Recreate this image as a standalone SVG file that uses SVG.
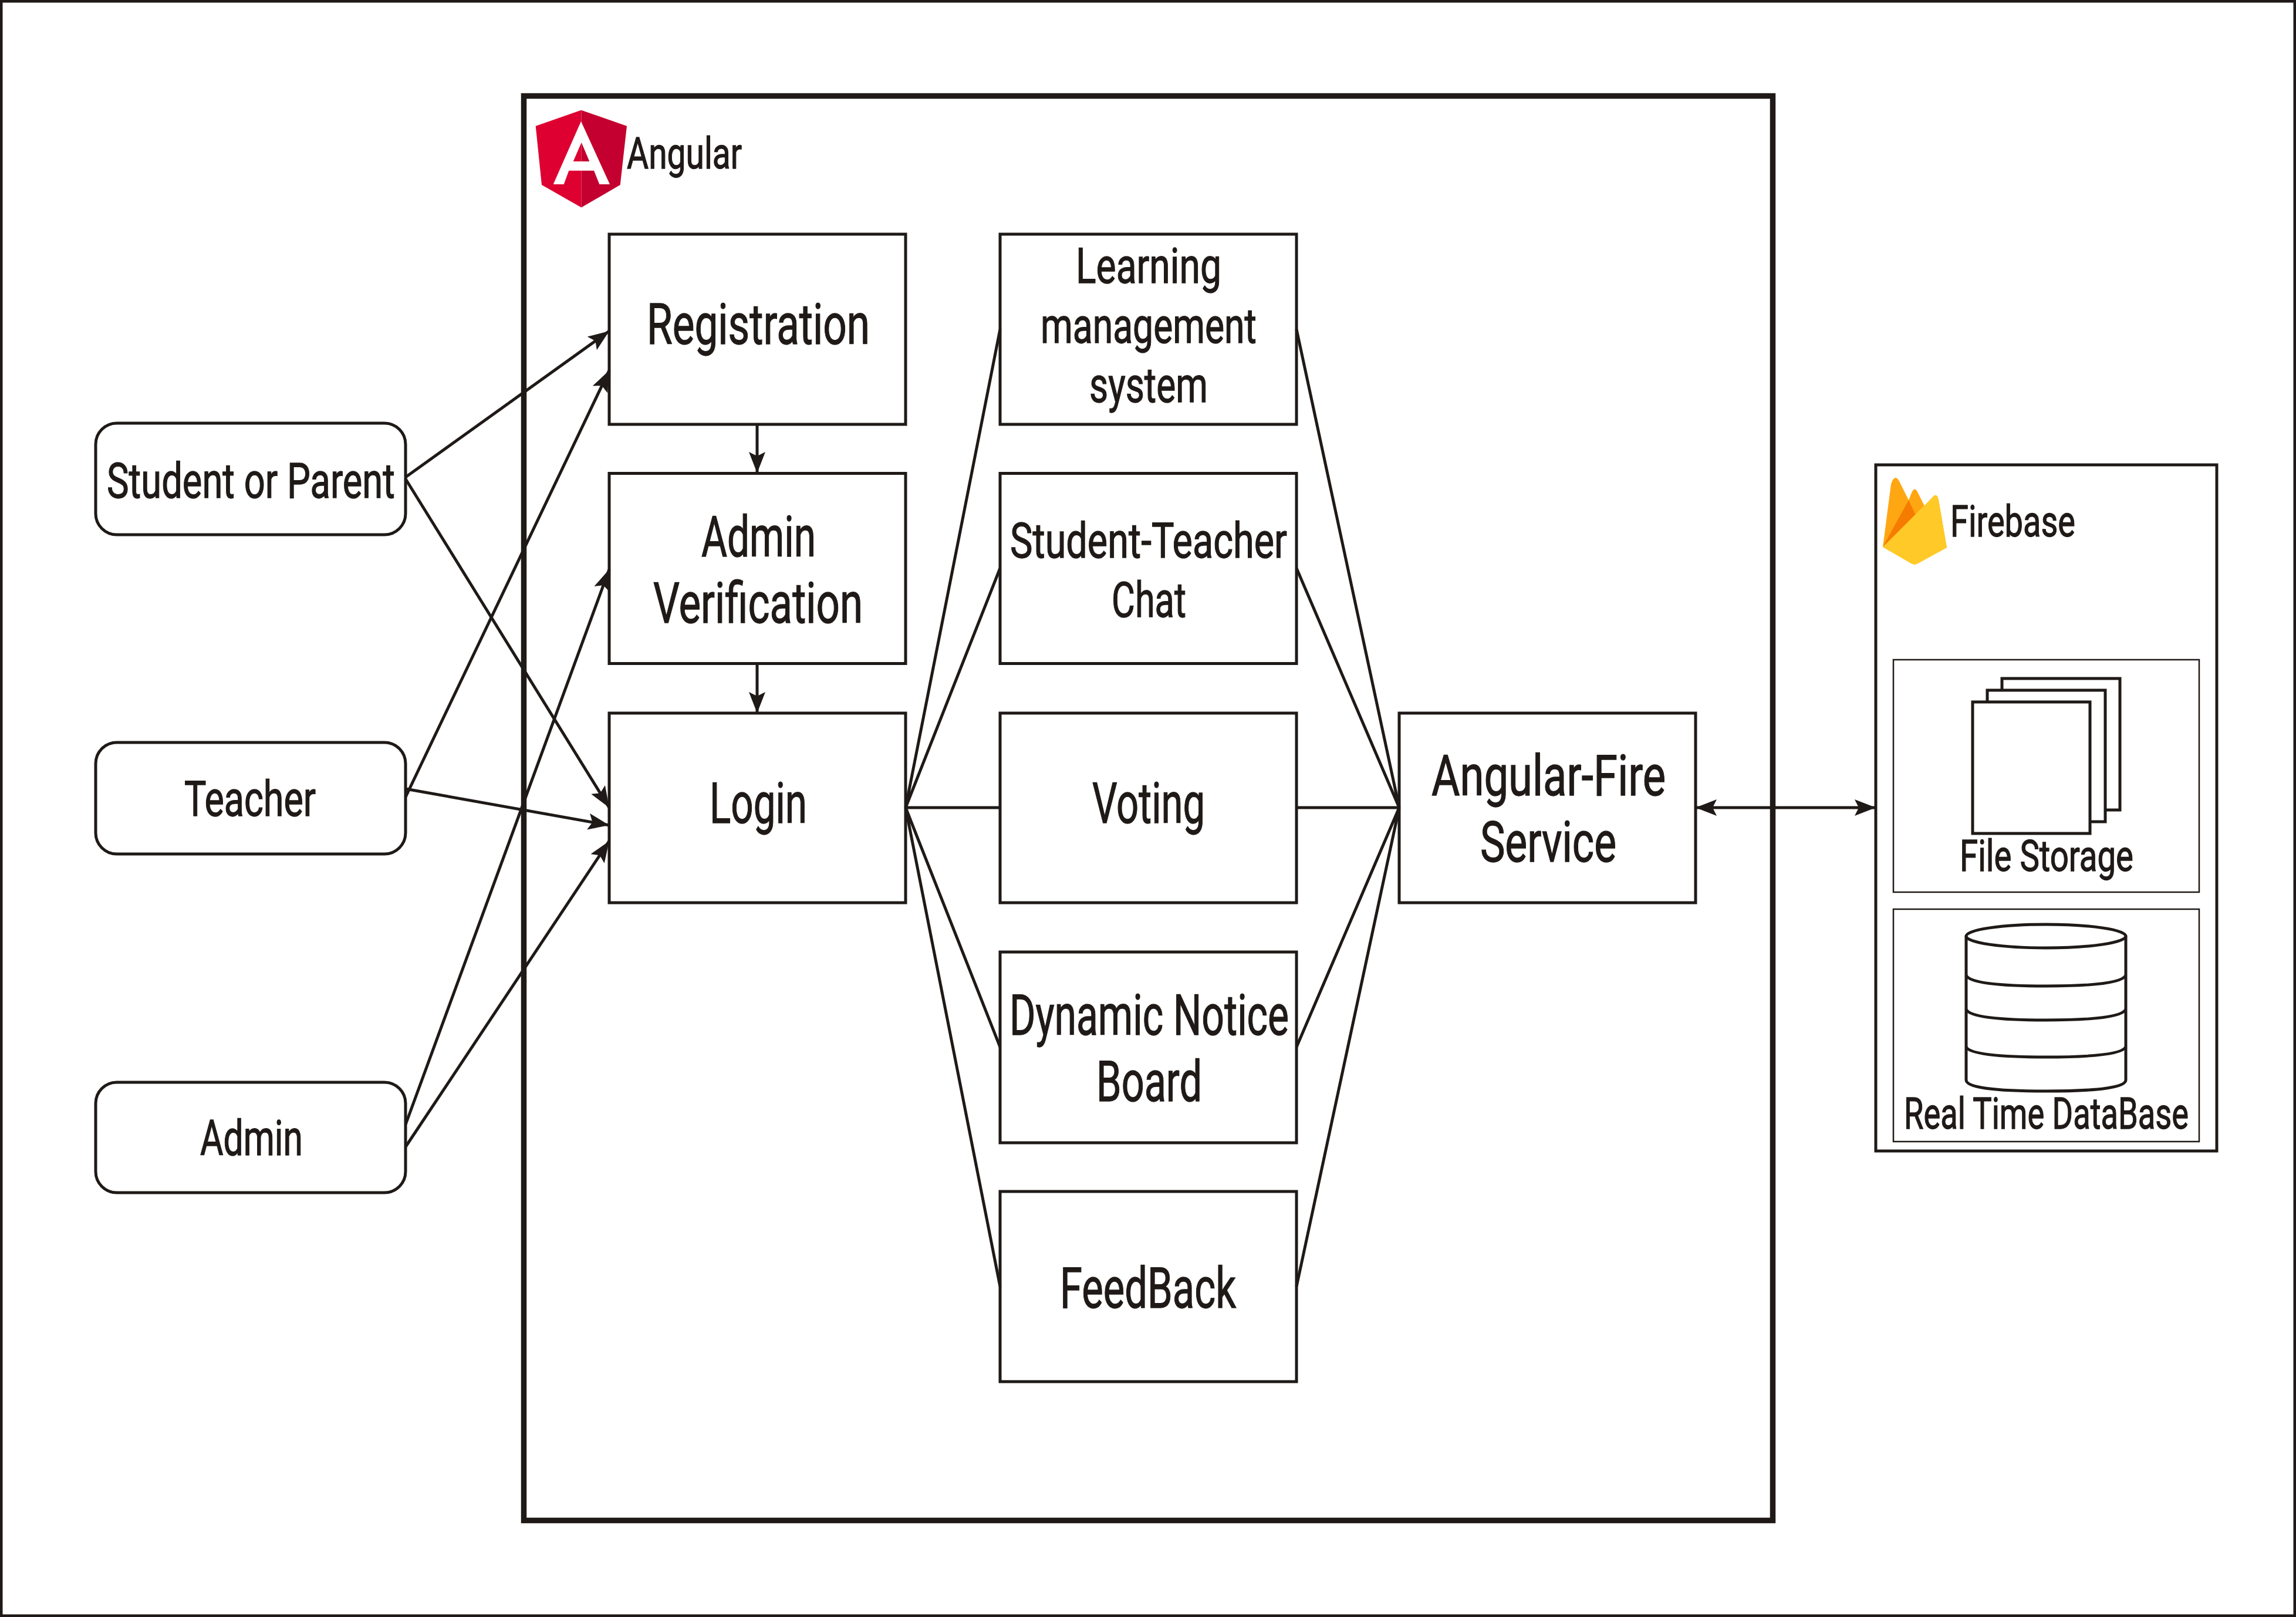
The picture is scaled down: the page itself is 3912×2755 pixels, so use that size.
<svg xmlns="http://www.w3.org/2000/svg" width="3912" height="2755" viewBox="0 0 3912 2755">
<style>
.b{fill:#fff;stroke:#1f1a17;stroke-width:5}
.t{fill:#1f1a17;stroke:#1f1a17;stroke-width:1.300;font-family:Roboto,"Liberation Sans",sans-serif;font-size:96px}
.m{font-size:84px}.s{font-size:74px}
.c{fill:none;stroke:#1f1a17;stroke-width:5}
.a{marker-end:url(#h)}
</style>
<defs>
<marker id="h" markerUnits="userSpaceOnUse" markerWidth="38" markerHeight="30" refX="36" refY="14" orient="auto-start-reverse"><path d="M0,0L36,14L0,28L7,14Z" fill="#1f1a17"/></marker>
</defs>
<rect x="0" y="0" width="3912" height="2755" fill="#fff"/>
<rect id="frame" x="2" y="2" width="3908" height="2751" fill="none" stroke="#1f1a17" stroke-width="5"/>
<g id="angular">
<rect x="892.500" y="163.500" width="2128" height="2427" fill="#fff" stroke="#1f1a17" stroke-width="9.500"/>
<path d="M990,187.700L912.700,214.700L923,315L990.500,353.500V187.700Z" fill="#dd0031"/>
<path d="M990.500,187.700L1068,214.700L1056.700,315L990.500,353.500Z" fill="#c3002f"/>
<path fill-rule="evenodd" d="M990,206.700L942.700,314H960.700L969.300,290.700H1012L1021.300,314H1039ZM990.700,242.700L976.700,275H1004.300Z" fill="#fff"/>
<text class="t s" x="1068" y="286.700" textLength="196" lengthAdjust="spacingAndGlyphs">Angular</text>
</g>
<g id="student"><rect class="b" x="163" y="721" width="528" height="190" rx="36"/><text class="t m" x="182" y="848" textLength="491" lengthAdjust="spacingAndGlyphs">Student or Parent</text></g>
<g id="teacher"><rect class="b" x="163" y="1265" width="528" height="190" rx="36"/><text class="t m" x="314" y="1390" textLength="224" lengthAdjust="spacingAndGlyphs">Teacher</text></g>
<g id="admin"><rect class="b" x="163" y="1844" width="528" height="188" rx="36"/><text class="t m" x="341" y="1968" textLength="175" lengthAdjust="spacingAndGlyphs">Admin</text></g>
<g id="registration"><rect class="b" x="1038" y="399" width="505" height="324"/><text class="t" x="1102" y="586" textLength="380" lengthAdjust="spacingAndGlyphs">Registration</text></g>
<g id="verification"><rect class="b" x="1038" y="806.500" width="505" height="324"/><text class="t" x="1195" y="948" textLength="195" lengthAdjust="spacingAndGlyphs">Admin</text><text class="t" x="1113" y="1061" textLength="357" lengthAdjust="spacingAndGlyphs">Verification</text></g>
<g id="login"><rect class="b" x="1038" y="1215" width="505" height="323"/><text class="t" x="1209" y="1402" textLength="166" lengthAdjust="spacingAndGlyphs">Login</text></g>
<g id="lms"><rect class="b" x="1704" y="399" width="505" height="324"/><text class="t m" x="1833" y="482" textLength="248" lengthAdjust="spacingAndGlyphs">Learning</text><text class="t m" x="1773" y="584" textLength="368" lengthAdjust="spacingAndGlyphs">management</text><text class="t m" x="1856" y="685" textLength="202" lengthAdjust="spacingAndGlyphs">system</text></g>
<g id="chat"><rect class="b" x="1704" y="806.500" width="505" height="324"/><text class="t m" x="1721" y="950" textLength="472" lengthAdjust="spacingAndGlyphs">Student-Teacher</text><text class="t m" x="1894" y="1051" textLength="127" lengthAdjust="spacingAndGlyphs">Chat</text></g>
<g id="voting"><rect class="b" x="1704" y="1215" width="505" height="323"/><text class="t" x="1861" y="1402" textLength="192" lengthAdjust="spacingAndGlyphs">Voting</text></g>
<g id="notice"><rect class="b" x="1704" y="1622" width="505" height="325"/><text class="t" x="1720" y="1763" textLength="476" lengthAdjust="spacingAndGlyphs">Dynamic Notice</text><text class="t" x="1868" y="1876" textLength="180" lengthAdjust="spacingAndGlyphs">Board</text></g>
<g id="feedback"><rect class="b" x="1704" y="2030" width="505" height="324"/><text class="t" x="1806" y="2228" textLength="300" lengthAdjust="spacingAndGlyphs">FeedBack</text></g>
<g id="fire-service"><rect class="b" x="2384" y="1215" width="505" height="323"/><text class="t" x="2439" y="1355" textLength="399" lengthAdjust="spacingAndGlyphs">Angular-Fire</text><text class="t" x="2522" y="1468" textLength="232" lengthAdjust="spacingAndGlyphs">Service</text></g>
<g id="firebase">
<rect class="b" x="3196" y="792" width="581" height="1169"/>
<path d="M3208,932L3222,825Q3228,806 3236,820L3252,852L3256,842Q3262,826 3268,840L3279,862L3292,848Q3300,838 3303,852L3317,933L3262,962Z" fill="#ffa712"/>
<path d="M3208,932L3252,852L3265,880Z" fill="#f57c00"/>
<path d="M3208,932L3292,848Q3300,838 3303,852L3317,933L3268,960Q3262,963 3256,960Z" fill="#ffca28"/>
<text class="t s" x="3323" y="914" textLength="213" lengthAdjust="spacingAndGlyphs">Firebase</text>
</g>
<g id="file-storage">
<rect x="3226" y="1124" width="521" height="396" fill="#fff" stroke="#1f1a17" stroke-width="2.500"/>
<rect class="b" x="3411" y="1156" width="201" height="224"/>
<rect class="b" x="3386" y="1176" width="201" height="224"/>
<rect class="b" x="3361" y="1196" width="200" height="224"/>
<text class="t s" x="3339" y="1484" textLength="296" lengthAdjust="spacingAndGlyphs">File Storage</text>
</g>
<g id="database">
<rect x="3226" y="1549" width="521" height="396" fill="#fff" stroke="#1f1a17" stroke-width="2.500"/>
<path class="c" d="M3350,1595V1840Q3350,1859 3486,1859T3622,1840V1595"/>
<ellipse class="c" cx="3486" cy="1595" rx="136" ry="20"/>
<path class="c" d="M3350,1662Q3360,1680 3486,1680T3622,1662M3350,1720Q3360,1738 3486,1738T3622,1720M3350,1784Q3360,1801 3486,1801T3622,1784"/>
<text class="t s" x="3244" y="1923" textLength="485" lengthAdjust="spacingAndGlyphs">Real Time DataBase</text>
</g>
<g id="connectors" class="c">
<path class="a" d="M691,813L1038,564"/>
<path class="a" d="M691,816L1038,1376"/>
<path class="a" d="M691,1358L1038,631"/>
<path class="a" d="M691,1344L1038,1406"/>
<path class="a" d="M691,1916L1038,970"/>
<path class="a" d="M691,1954L1038,1433"/>
<path class="a" d="M1290,723V806"/>
<path class="a" d="M1290,1130V1215"/>
<path d="M1543,1376L1704,561M1543,1376L1704,968M1543,1376H1704M1543,1376L1704,1784M1543,1376L1704,2192"/>
<path d="M2209,561L2384,1376M2209,968L2384,1376M2209,1376H2384M2209,1784L2384,1376M2209,2192L2384,1376"/>
<path d="M2889,1376H3196" marker-start="url(#h)" marker-end="url(#h)"/>
</g>
</svg>
